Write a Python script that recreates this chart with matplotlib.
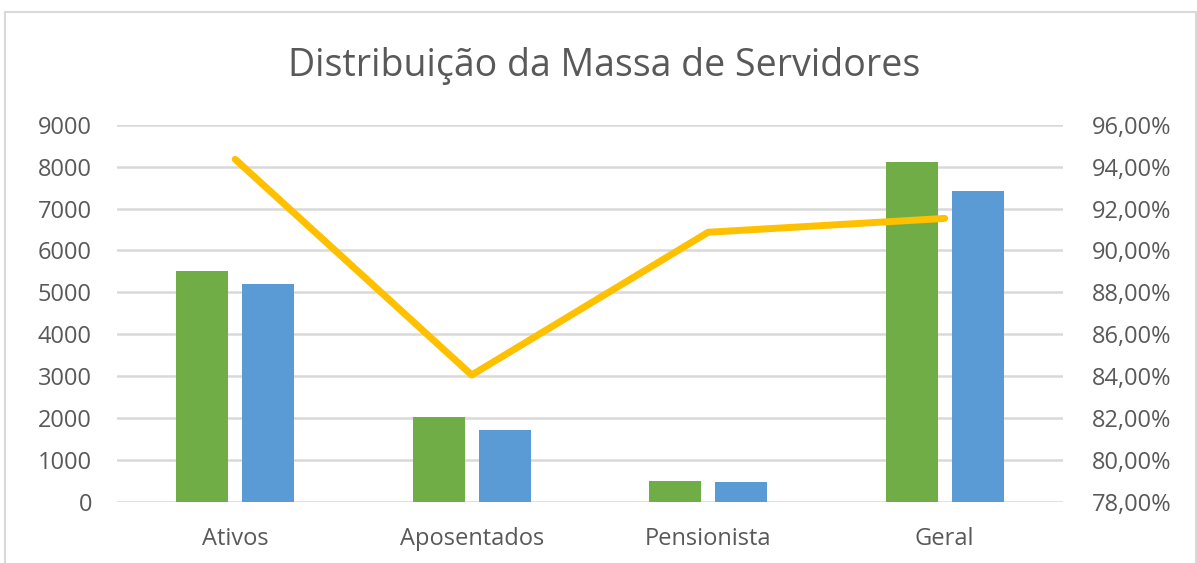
import matplotlib.pyplot as plt
from matplotlib.patches import Rectangle

plt.rcParams['font.family'] = ['Open Sans', 'DejaVu Sans']

categorias = ['Ativos', 'Aposentados', 'Pensionista', 'Geral']
serie_verde = [5520, 2020, 510, 8100]
serie_azul = [5210, 1710, 470, 7410]
percentual = [0.9435, 0.8406, 0.9087, 0.9153]

esq_ticks = list(range(0, 9001, 1000))
dir_ticks = [0.78 + 0.02 * i for i in range(10)]

cinza = '#595959'

fig = plt.figure(figsize=(11.97, 5.63), dpi=100)
fig.patches.append(Rectangle((0.004, -0.01), 0.995, 0.988, transform=fig.transFigure,
                             fill=False, edgecolor='#d9d9d9', linewidth=1.5))

ax = fig.add_axes([0.0977, 0.1083, 0.7903, 0.6702])
x = list(range(len(categorias)))
larg = 0.22
desl = 0.14
ax.bar([i - desl for i in x], serie_verde, width=larg, color='#70AD47', zorder=3)
ax.bar([i + desl for i in x], serie_azul, width=larg, color='#5B9BD5', zorder=3)

ax.set_xlim(-0.5, len(categorias) - 0.5)
ax.set_ylim(0, 9000)
ax.set_yticks(esq_ticks)
ax.set_xticks(x)
ax.set_xticklabels(categorias)
ax.grid(axis='y', color='#d9d9d9', linewidth=1.8, zorder=0)
for s in ax.spines.values():
    s.set_visible(False)
ax.tick_params(axis='y', length=0, labelsize=17, colors=cinza, pad=18)
ax.tick_params(axis='x', length=0, labelsize=17, colors=cinza, pad=18)

ax2 = ax.twinx()
ax2.plot(x, percentual, color='#FFC000', linewidth=5, solid_capstyle='round', zorder=4)
ax2.set_ylim(0.78, 0.96)
ax2.set_yticks(dir_ticks)
ax2.set_yticklabels([f'{v * 100:.2f}%'.replace('.', ',') for v in dir_ticks])
for s in ax2.spines.values():
    s.set_visible(False)
ax2.tick_params(axis='y', length=0, labelsize=17, colors=cinza, pad=21)

fig.text(0.505, 0.882, 'Distribuição da Massa de Servidores', ha='center', va='center',
         fontsize=27, color=cinza)

fig.savefig('out.png', dpi=100)
